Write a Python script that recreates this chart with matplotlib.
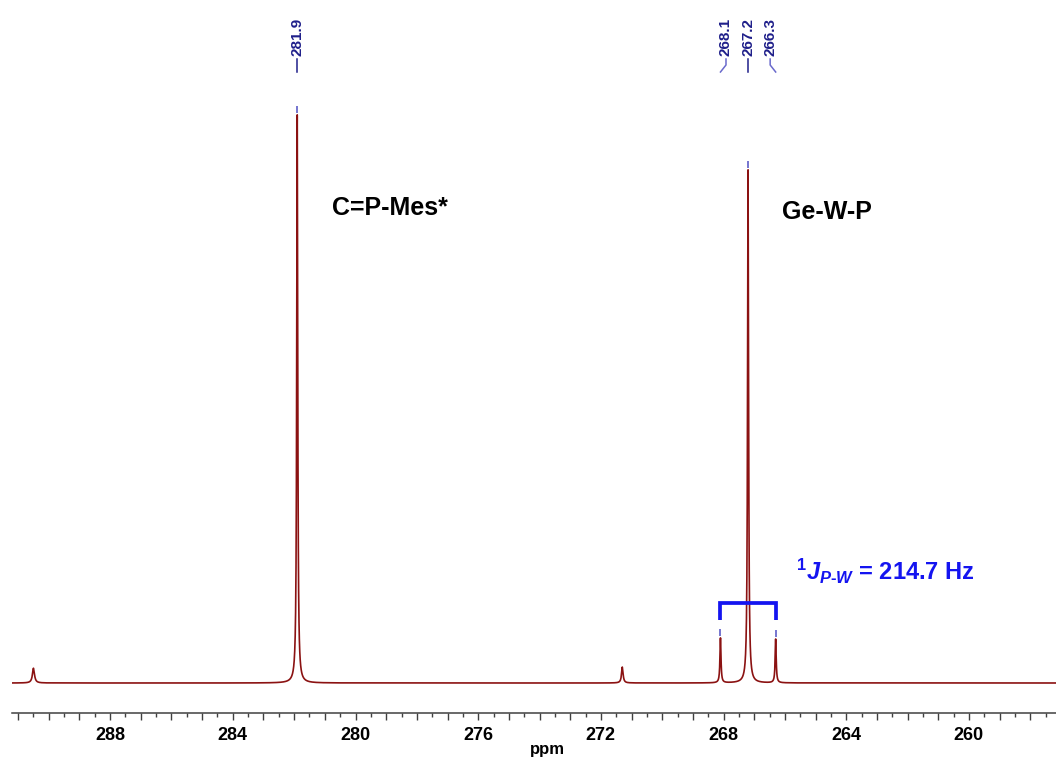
import numpy as np
import matplotlib
matplotlib.use("Agg")
import matplotlib.pyplot as plt
from matplotlib.ticker import MultipleLocator, FuncFormatter
import matplotlib.transforms as mtransforms

# ---- data ----
peak_ppm = [281.9, 268.1, 267.2, 266.3]
peak_height = [100.0, 7.9, 90.3, 7.7]
peak_hwhm = [0.02, 0.02, 0.02, 0.02]
peak_labels = ["281.9", "268.1", "267.2", "266.3"]

# small baseline features
bump_ppm = [290.5, 271.3]
bump_height = [2.6, 2.8]
bump_hwhm = [0.04, 0.03]

x_min, x_max = 257.16, 291.2
tick_labels_every = 4

plt.rcParams['font.family'] = ['Liberation Sans', 'DejaVu Sans']
plt.rcParams['mathtext.fontset'] = 'custom'
plt.rcParams['mathtext.rm'] = 'Liberation Sans:bold'
plt.rcParams['mathtext.it'] = 'Liberation Sans:italic:bold'
plt.rcParams['mathtext.bf'] = 'Liberation Sans:bold'

fig = plt.figure(figsize=(10.56, 7.58), dpi=100)
ax = fig.add_axes([12/1056, 45/758, 1044/1056, 713/758])

ppm = np.linspace(x_min, x_max, 20001)
spec = np.zeros_like(ppm)
for c, h, w in zip(peak_ppm + bump_ppm, peak_height + bump_height, peak_hwhm + bump_hwhm):
    spec += h * w**2 / ((ppm - c)**2 + w**2)

red = '#8b1212'
ax.plot(ppm, spec, color=red, lw=1.2)
ax.set_xlim(x_max, x_min)
ax.set_ylim(-5.28, 120.2)

for s in ['left', 'right', 'top']:
    ax.spines[s].set_visible(False)
ax.spines['bottom'].set_color('#404040')
ax.spines['bottom'].set_linewidth(1.1)
ax.yaxis.set_visible(False)
ax.xaxis.set_major_locator(MultipleLocator(1))
ax.xaxis.set_minor_locator(MultipleLocator(0.5))
ax.xaxis.set_major_formatter(FuncFormatter(
    lambda v, p: f"{v:.0f}" if abs(v / tick_labels_every - round(v / tick_labels_every)) < 1e-6 else ""))
ax.tick_params(axis='x', which='major', direction='out', length=5, width=1.0,
               color='#404040', labelsize=13, pad=5)
ax.tick_params(axis='x', which='minor', direction='out', length=3, width=1.0, color='#404040')
for lab in ax.get_xticklabels():
    lab.set_fontweight('bold')
ax.text(0.513, -0.040, 'ppm', transform=ax.transAxes, ha='center', va='top',
        fontsize=12, fontweight='bold')

# peak markers above each peak
mark_col = '#6a6acc'
navy = '#1f1f8a'
for c, h in zip(peak_ppm, peak_height):
    ax.plot([c, c], [h + 0.35, h + 1.6], color=mark_col, lw=1.3, solid_capstyle='butt')

trans = mtransforms.blended_transform_factory(ax.transData, ax.transAxes)
H = 713.0
def yf(ypx):
    return 1 - ypx / H

center = peak_ppm[2]
spread = 0.72
label_x = [peak_ppm[0], center + spread, center, center - spread]
for lx, c, t in zip(label_x, peak_ppm, peak_labels):
    ax.text(lx, yf(56), t, transform=trans, rotation=90, ha='center', va='bottom',
            fontsize=11, fontweight='bold', color=navy)
    if abs(lx - c) < 1e-9:
        ax.plot([lx, lx], [yf(59), yf(72)], transform=trans, color=navy, lw=1.1)
    else:
        ax.plot([lx, lx, c], [yf(59), yf(65), yf(72)], transform=trans, color=mark_col, lw=1.1)

ax.text(280.75, 83.6, 'C=P-Mes*', ha='left', va='center', fontsize=18, fontweight='bold', color='black')
ax.text(266.1, 82.9, 'Ge-W-P', ha='left', va='center', fontsize=18, fontweight='bold', color='black')

blue = '#1414f0'
ax.plot([peak_ppm[1], peak_ppm[1], peak_ppm[3], peak_ppm[3]], [11.1, 14.1, 14.1, 11.1],
        color=blue, lw=2.7, solid_capstyle='butt', solid_joinstyle='miter')
ax.text(265.65, 19.7, '$^{\\mathrm{1}}J_{P\u2010W}$ = 214.7 Hz', ha='left', va='center',
        fontsize=17, fontweight='bold', color=blue)

fig.savefig('out.png', dpi=100)
